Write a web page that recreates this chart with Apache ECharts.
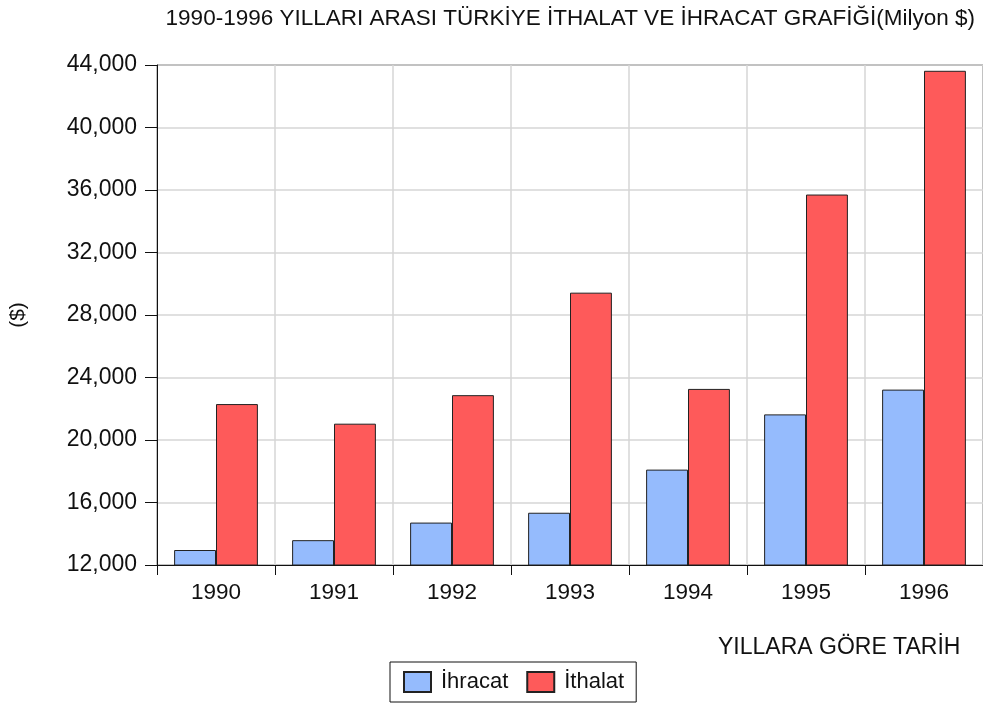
<!DOCTYPE html>
<html>
<head>
<meta charset="utf-8">
<script src="https://cdn.jsdelivr.net/npm/echarts@6/dist/echarts.min.js"></script>
<style>
  html, body { margin: 0; padding: 0; background: #fff; }
  #chart { width: 983px; height: 704px; }
</style>
</head>
<body>
<div id="chart"></div>
<script>
var years = ['1990', '1991', '1992', '1993', '1994', '1995', '1996'];
var ihracat = [12960, 13590, 14715, 15345, 18105, 21640, 23225];
var ithalat = [22300, 21045, 22870, 29430, 23270, 35710, 43630];
var yTicks = { min: 12000, max: 44000, step: 4000 };

var FONT = 'Liberation Sans';
var chart = echarts.init(document.getElementById('chart'));

var option = {
  backgroundColor: '#fff',
  textStyle: { fontFamily: FONT },
  title: {
    text: '1990-1996 YILLARI ARASI TÜRKİYE İTHALAT VE İHRACAT GRAFİĞİ(Milyon $)',
    right: 3,
    top: 2,
    textStyle: { fontFamily: FONT, fontSize: 22.5, fontWeight: 'normal', color: '#111' }
  },
  legend: {
    data: ['İhracat', 'İthalat'],
    icon: 'rect',
    left: 390,
    top: 662,
    padding: [9, 12, 9, 13],
    itemGap: 18,
    itemWidth: 27,
    itemHeight: 20,
    borderColor: '#111',
    borderWidth: 1,
    textStyle: { fontFamily: FONT, fontSize: 22, color: '#111', padding: [0, 0, 0, 5] }
  },
  grid: {
    left: 157,
    right: 0,
    top: 65,
    bottom: 139,
    show: true,
    borderColor: '#111',
    borderWidth: 1
  },
  xAxis: {
    type: 'category',
    data: years,
    axisLine: { lineStyle: { color: '#111', width: 1 } },
    axisTick: { show: true, length: 10, lineStyle: { color: '#111' } },
    splitLine: { show: true, lineStyle: { color: '#d6d6d6', width: 1.5 } },
    axisLabel: { fontFamily: FONT, fontSize: 22.5, color: '#111', margin: 16 }
  },
  yAxis: {
    type: 'value',
    min: yTicks.min,
    max: yTicks.max,
    interval: yTicks.step,
    name: '($)',
    nameLocation: 'middle',
    nameGap: 128,
    nameRotate: 90,
    nameTextStyle: { fontFamily: FONT, fontSize: 21, color: '#111' },
    axisLine: { show: true, lineStyle: { color: '#111', width: 1 } },
    axisTick: { show: true, length: 12, lineStyle: { color: '#111' } },
    splitLine: { show: true, lineStyle: { color: '#d6d6d6', width: 1.5 } },
    axisLabel: { fontFamily: FONT, fontSize: 23, color: '#111', margin: 20 }
  },
  graphic: [{
    type: 'text',
    left: 718,
    top: 636,
    style: { text: 'YILLARA GÖRE TARİH', fontFamily: FONT, fontSize: 23, fill: '#111' }
  }],
  series: [{
    name: 'İhracat',
    type: 'bar',
    data: ihracat,
    barGap: 0,
    barCategoryGap: '29%',
    itemStyle: { color: '#95bbfd', borderColor: '#222', borderWidth: 1 }
  }, {
    name: 'İthalat',
    type: 'bar',
    data: ithalat,
    barGap: 0,
    barCategoryGap: '29%',
    itemStyle: { color: '#fe5a5a', borderColor: '#222', borderWidth: 1 }
  }]
};
chart.setOption(option);
</script>
</body>
</html>
